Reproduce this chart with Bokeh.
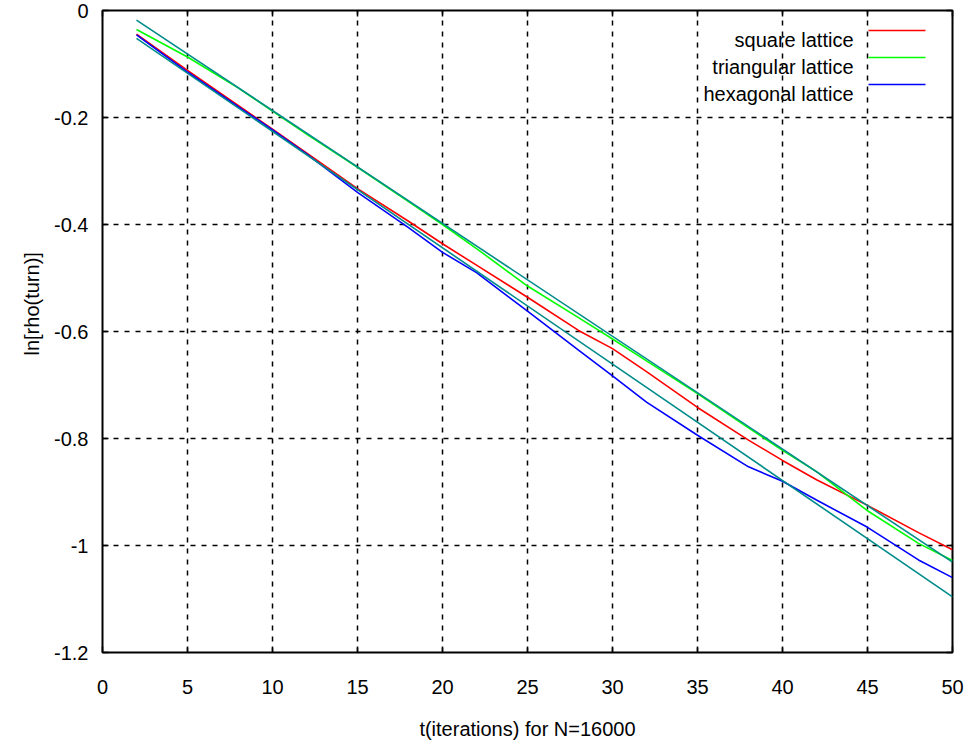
from bokeh.embed import file_html
from bokeh.models import (CustomJSTickFormatter, FixedTicker, Label, LinearAxis,
                          Range1d, Title)
from bokeh.plotting import figure
from bokeh.resources import INLINE

# ---- data -----------------------------------------------------------------
t = [2, 5, 8, 10, 12, 15, 18, 20, 22, 25, 28, 30, 32, 35, 38, 40, 42, 45, 48, 50]

square = [-0.044, -0.112, -0.178, -0.222, -0.266, -0.333, -0.394, -0.436, -0.476, -0.536,
          -0.598, -0.632, -0.675, -0.742, -0.803, -0.841, -0.877, -0.925, -0.976, -1.008]

triangular = [-0.0355, -0.087, -0.145, -0.188, -0.231, -0.293, -0.357, -0.400, -0.445, -0.515,
              -0.574, -0.614, -0.655, -0.716, -0.780, -0.822, -0.862, -0.935, -0.996, -1.028]

hexagonal = [-0.0455, -0.115, -0.180, -0.223, -0.268, -0.340, -0.406, -0.452, -0.490, -0.562,
             -0.635, -0.683, -0.732, -0.794, -0.853, -0.880, -0.915, -0.966, -1.027, -1.060]

# straight-line fits (end points)
fit_t = [2, 50]
fit_upper = [-0.018, -1.031]
fit_lower = [-0.052, -1.096]

series_names = ["square lattice", "triangular lattice", "hexagonal lattice"]
series_colors = ["#ff0000", "#00ff00", "#0000ff"]
fit_color = "#008b8b"

x_ticks = [0, 5, 10, 15, 20, 25, 30, 35, 40, 45, 50]
y_ticks = [0, -0.2, -0.4, -0.6, -0.8, -1.0, -1.2]
y_tick_labels = {0: "0", -0.2: "-0.2", -0.4: "-0.4", -0.6: "-0.6",
                 -0.8: "-0.8", -1.0: "-1", -1.2: "-1.2"}

x_title = "t(iterations) for N=16000"
y_title = "ln[rho(turn)]"

# ---- layout ---------------------------------------------------------------
W, H = 971, 749
B_LEFT, B_RIGHT, B_TOP, B_BOTTOM = 102, 19, 10, 97
FRAME_W = W - B_LEFT - B_RIGHT
FRAME_H = H - B_TOP - B_BOTTOM
X_LO, X_HI = 0, 50
Y_LO, Y_HI = -1.2, 0

FONT = "Liberation Sans"
FONT_SIZE = "20px"


def data_x(px):
    return X_LO + px / FRAME_W * (X_HI - X_LO)


def data_y(px):
    return Y_HI - px / FRAME_H * (Y_HI - Y_LO)


p = figure(width=W, height=H,
           x_range=Range1d(X_LO, X_HI), y_range=Range1d(Y_LO, Y_HI),
           output_backend="svg", toolbar_location=None,
           min_border_left=B_LEFT, min_border_right=B_RIGHT,
           min_border_top=B_TOP, min_border_bottom=B_BOTTOM)
p.background_fill_color = "white"
p.border_fill_color = "white"
p.outline_line_color = "black"
p.outline_line_width = 2


def style_ticks(ax, ticks):
    ax.ticker = FixedTicker(ticks=ticks)
    ax.axis_line_color = None
    ax.major_tick_in = 6
    ax.major_tick_out = 0
    ax.major_tick_line_color = "black"
    ax.major_tick_line_width = 1.5
    ax.minor_tick_line_color = None
    ax.major_label_text_font = FONT
    ax.major_label_text_font_size = FONT_SIZE
    ax.major_label_text_color = "black"
    ax.axis_label_text_font = FONT
    ax.axis_label_text_font_size = FONT_SIZE
    ax.axis_label_text_font_style = "normal"
    ax.axis_label_text_color = "black"


xa = p.xaxis[0]
style_ticks(xa, x_ticks)
xa.major_label_standoff = 27
xa.axis_label = x_title
xa.axis_label_standoff = 21

ya = p.yaxis[0]
style_ticks(ya, y_ticks)
ya.major_label_overrides = y_tick_labels
ya.major_label_standoff = 14

# y title: starts 297 px above the bottom edge of the frame
p.add_layout(Title(text=y_title, align="left", offset=297, standoff=17,
                   text_font=FONT, text_font_size=FONT_SIZE,
                   text_font_style="normal", text_color="black"), "left")

# mirrored tick marks on the top and right edges
blank = CustomJSTickFormatter(code="return ''")
for side, ticks in (("above", x_ticks), ("right", y_ticks)):
    ax = LinearAxis(formatter=blank)
    style_ticks(ax, ticks)
    ax.major_label_standoff = 0
    p.add_layout(ax, side)

# dotted grid
p.xgrid.ticker = FixedTicker(ticks=x_ticks)
p.ygrid.ticker = FixedTicker(ticks=y_ticks)
for g in (p.xgrid[0], p.ygrid[0]):
    g.grid_line_color = "black"
    g.grid_line_alpha = 1.0
    g.grid_line_width = 1.5
    g.grid_line_dash = "5 6"

# series
for ys, color in zip([square, triangular, hexagonal], series_colors):
    p.line(t, ys, line_color=color, line_width=1.6)

# fits
p.line(fit_t, fit_upper, line_color=fit_color, line_width=1.6)
p.line(fit_t, fit_lower, line_color=fit_color, line_width=1.6)

# key: text right-aligned, sample line on the right
for i, (name, color) in enumerate(zip(series_names, series_colors)):
    row = 20 + 27 * i
    p.line([data_x(766), data_x(823)], [data_y(row), data_y(row)],
           line_color=color, line_width=1.6)
    p.add_layout(Label(x=data_x(751), y=data_y(row + 9), text=name,
                       text_align="right", text_baseline="middle",
                       text_font=FONT, text_font_size=FONT_SIZE, text_color="black"))

open("out.html", "w").write(file_html(p, INLINE))
